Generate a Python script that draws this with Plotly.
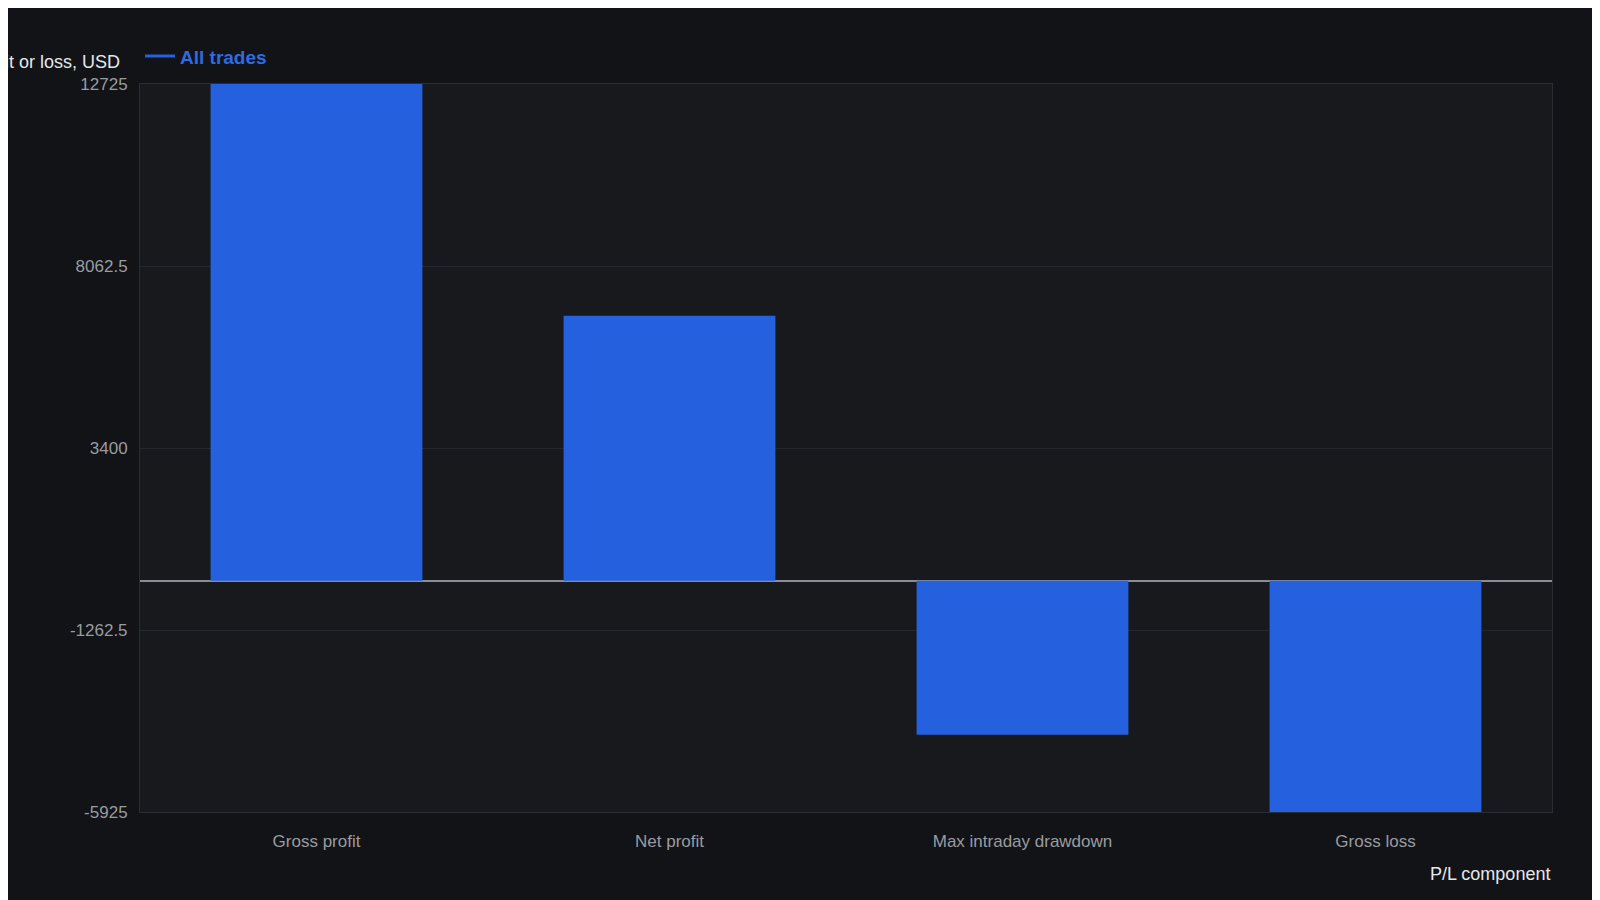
import plotly.graph_objects as go

components = ["Gross profit", "Net profit", "Max intraday drawdown", "Gross loss"]
pl_values = [12725, 6790, -3945, -5925]
tick_vals = [12725, 8062.5, 3400, -1262.5, -5925]
tick_text = ["12725", "8062.5", "3400", "-1262.5", "-5925"]

blue = "#2560de"
fig = go.Figure()
fig.add_trace(go.Bar(x=components, y=pl_values, marker_color=blue, marker_line_width=0,
                     width=0.6, showlegend=False))
fig.add_trace(go.Scatter(x=[None], y=[None], mode="lines", name="All trades",
                         line=dict(color=blue, width=3)))

fig.update_layout(
    width=1600, height=900,
    paper_bgcolor="#111317", plot_bgcolor="#17191d",
    font=dict(family="Liberation Sans, Arial", color="#9a9ca0", size=17),
    margin=dict(l=132, r=56, t=76, b=96),
    legend=dict(orientation="h", x=0, y=1.012, xanchor="left", yanchor="bottom",
                font=dict(color="#2f6be0", size=19, weight="bold"),
                bgcolor="rgba(0,0,0,0)", itemwidth=30),
    bargap=0.4,
)
fig.update_xaxes(showgrid=False, showline=True, linecolor="#2a2d33", mirror=True,
                 ticks="", tickfont=dict(size=17), ticklabelstandoff=14)
fig.update_yaxes(range=[-5925, 12725], tickvals=tick_vals, ticktext=tick_text,
                 gridcolor="#25282e", zeroline=True, zerolinecolor="#8a8e94", zerolinewidth=2,
                 showline=True, linecolor="#2a2d33", mirror=True, tickfont=dict(size=17),
                 ticklabelstandoff=8)
fig.add_annotation(text="Profit or loss, USD", xref="paper", yref="paper", x=0, y=1,
                   xanchor="right", yanchor="bottom", xshift=-18, yshift=10, showarrow=False,
                   font=dict(color="#e6e7e9", size=18))
fig.add_annotation(text="P/L component", xref="paper", yref="paper", x=1, y=0,
                   xanchor="right", yanchor="top", yshift=-50, showarrow=False,
                   font=dict(color="#e6e7e9", size=18))
fig.write_html("out.html")
